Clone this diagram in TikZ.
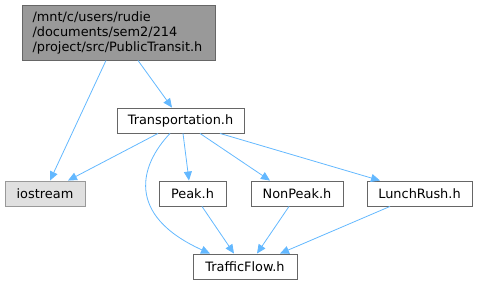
\documentclass[tikz,border=0pt]{standalone}
\usepackage{fontspec}
\setmainfont{DejaVu Sans}
\usetikzlibrary{arrows.meta}
\definecolor{edgeblue}{HTML}{63B8FF}
\definecolor{rootfill}{HTML}{999999}
\definecolor{rootline}{HTML}{666666}
\definecolor{sysfill}{HTML}{E0E0E0}
\definecolor{sysline}{HTML}{999999}
\definecolor{boxline}{HTML}{666666}
\begin{document}
\begin{tikzpicture}[x=1pt,y=-1pt,
  filebox/.style={draw=boxline, fill=white, line width=0.9pt, inner sep=0pt,
    font=\fontsize{12.9}{15}\selectfont},
  dep/.style={draw=edgeblue, line width=0.8pt, -{Triangle[length=9pt,width=8pt]}}]
\useasboundingbox (0,0) rectangle (477,285);
% boxes are placed by their centres
\node[filebox, fill=rootfill, draw=rootline, minimum width=193pt, minimum height=55pt,
  align=left, text width=172pt] (root) at (118.5,32.5)
  {/mnt/c/users/rudie\\/documents/sem2/214\\/project/src/PublicTransit.h};
\node[filebox, minimum width=127pt, minimum height=25pt] (trans) at (180.5,120.5) {Transportation.h};
\node[filebox, fill=sysfill, draw=sysline, minimum width=80pt, minimum height=25pt] (ios) at (45,193.5) {iostream};
\node[filebox, minimum width=67pt, minimum height=25pt] (peak) at (192.5,193.5) {Peak.h};
\node[filebox, minimum width=92pt, minimum height=25pt] (nonpeak) at (297,193.5) {NonPeak.h};
\node[filebox, minimum width=105pt, minimum height=25pt] (lunch) at (419.5,193.5) {LunchRush.h};
\node[filebox, minimum width=104pt, minimum height=25pt] (traffic) at (245,266.5) {TrafficFlow.h};
% include edges
\draw[dep] (root.south -| 106,0) -- (ios.north -| 50,0);
\draw[dep] (root.south -| 138,0) -- (trans.north -| 172,0);
\draw[dep] (trans.south -| 158,0) -- (ios.north -| 68,0);
\draw[dep] (trans.south -| 170,0) .. controls (140,165) and (125,215) .. (traffic.north -| 210,0);
\draw[dep] (trans.south -| 183,0) -- (peak.north -| 189,0);
\draw[dep] (trans.south -| 200,0) -- (nonpeak.north -| 270,0);
\draw[dep] (trans.south -| 220,0) -- (lunch.north -| 380,0);
\draw[dep] (peak.south -| 202,0) -- (traffic.north -| 234,0);
\draw[dep] (nonpeak.south -| 289,0) -- (traffic.north -| 257,0);
\draw[dep] (lunch.south -| 390,0) -- (traffic.north -| 280,0);
\end{tikzpicture}
\end{document}
